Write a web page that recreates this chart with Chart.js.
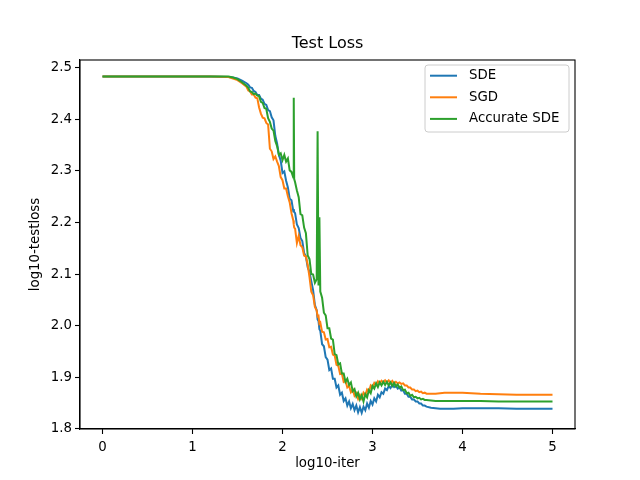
<!DOCTYPE html>
<html>
<head>
<meta charset="utf-8">
<script src="https://cdn.jsdelivr.net/npm/chart.js@4/dist/chart.umd.min.js"></script>
<style>
html,body{margin:0;padding:0;background:#fff;}
#c{display:block;}
</style>
</head>
<body>
<canvas id="c" width="640" height="480" style="width:640px;height:480px"></canvas>
<script>
const logIter = [
  0, 0.5, 1.0, 1.2, 1.4, 1.45, 1.5, 1.55,
  1.60, 1.62, 1.64, 1.66, 1.68, 1.70, 1.72, 1.74, 1.76, 1.78,
  1.80, 1.82, 1.84, 1.86, 1.88, 1.90, 1.92, 1.94, 1.96, 1.98,
  2.00, 2.02, 2.04, 2.06, 2.08, 2.10, 2.12, 2.125, 2.13, 2.14,
  2.16, 2.18, 2.20, 2.22, 2.24, 2.26, 2.28, 2.30, 2.32, 2.34,
  2.36, 2.38, 2.39, 2.40, 2.41, 2.42, 2.44, 2.46, 2.48, 2.50,
  2.52, 2.54, 2.56, 2.58, 2.60, 2.62, 2.64, 2.66, 2.68, 2.70,
  2.72, 2.74, 2.76, 2.78, 2.80, 2.82, 2.84, 2.86, 2.88, 2.90,
  2.92, 2.94, 2.96, 2.98, 3.00, 3.02, 3.04, 3.06, 3.08, 3.10,
  3.12, 3.14, 3.16, 3.18, 3.20, 3.22, 3.24, 3.26, 3.28, 3.30,
  3.32, 3.34, 3.36, 3.38, 3.40, 3.42, 3.44, 3.46, 3.48, 3.50,
  3.52, 3.54, 3.56, 3.58, 3.60,
  3.65, 3.70, 3.75, 3.80, 3.90, 4.00, 4.20, 4.40, 4.60, 4.80, 5.00
];
const sdeLoss = [
  2.483, 2.483, 2.483, 2.483, 2.482, 2.481, 2.479, 2.475,
  2.470, 2.467, 2.462, 2.461, 2.455, 2.453, 2.447, 2.447, 2.440, 2.438,
  2.430, 2.428, 2.418, 2.416, 2.404, 2.398, 2.368, 2.353, 2.331, 2.320,
  2.296, 2.299, 2.281, 2.268, 2.246, 2.243, 2.222, 2.226, 2.220, 2.218,
  2.196, 2.189, 2.170, 2.164, 2.141, 2.134, 2.113, 2.104, 2.086, 2.069,
  2.040, 2.030, 2.012, 2.009, 1.993, 1.990, 1.964, 1.960, 1.939, 1.934,
  1.914, 1.917, 1.897, 1.897, 1.880, 1.884, 1.866, 1.870, 1.854, 1.859,
  1.845, 1.853, 1.840, 1.848, 1.836, 1.845, 1.832, 1.842, 1.831, 1.843,
  1.836, 1.849, 1.841, 1.854, 1.847, 1.859, 1.853, 1.866, 1.861, 1.871,
  1.868, 1.878, 1.875, 1.883, 1.879, 1.885, 1.881, 1.884, 1.878, 1.880,
  1.874, 1.875, 1.868, 1.868, 1.862, 1.862, 1.857, 1.857, 1.853, 1.853,
  1.849, 1.849, 1.845, 1.845, 1.843,
  1.841, 1.840, 1.839, 1.839, 1.839, 1.840, 1.840, 1.840, 1.839, 1.839, 1.839
];
const sgdLoss = [
  2.483, 2.483, 2.483, 2.483, 2.482, 2.479, 2.476, 2.470,
  2.463, 2.456, 2.454, 2.448, 2.448, 2.442, 2.441, 2.423, 2.411, 2.403,
  2.402, 2.393, 2.390, 2.343, 2.338, 2.323, 2.328, 2.318, 2.309, 2.288,
  2.282, 2.266, 2.266, 2.251, 2.239, 2.218, 2.204, 2.196, 2.190, 2.188,
  2.160, 2.174, 2.156, 2.152, 2.136, 2.134, 2.118, 2.094, 2.066, 2.059,
  2.036, 2.029, 2.018, 2.019, 2.004, 2.006, 1.988, 1.987, 1.973, 1.974,
  1.958, 1.959, 1.944, 1.942, 1.924, 1.922, 1.906, 1.907, 1.891, 1.893,
  1.880, 1.883, 1.871, 1.876, 1.864, 1.869, 1.858, 1.866, 1.859, 1.870,
  1.865, 1.876, 1.872, 1.884, 1.880, 1.889, 1.885, 1.892, 1.888, 1.893,
  1.890, 1.894, 1.890, 1.894, 1.889, 1.893, 1.888, 1.891, 1.888, 1.890,
  1.887, 1.888, 1.884, 1.884, 1.880, 1.880, 1.876, 1.876, 1.873, 1.874,
  1.871, 1.872, 1.869, 1.870, 1.868,
  1.868, 1.868, 1.869, 1.870, 1.870, 1.870, 1.868, 1.867, 1.866, 1.866, 1.866
];
const accurateSdeLoss = [
  2.483, 2.483, 2.483, 2.483, 2.483, 2.481, 2.478, 2.472,
  2.465, 2.461, 2.454, 2.453, 2.449, 2.450, 2.446, 2.445, 2.434, 2.432,
  2.422, 2.420, 2.402, 2.395, 2.382, 2.378, 2.358, 2.348, 2.331, 2.334,
  2.321, 2.331, 2.318, 2.324, 2.301, 2.298, 2.287, 2.442, 2.284, 2.278,
  2.262, 2.249, 2.216, 2.214, 2.190, 2.179, 2.136, 2.129, 2.100, 2.099,
  2.083, 2.090, 2.377, 2.078, 2.210, 2.066, 2.054, 2.025, 2.020, 1.995,
  1.995, 1.975, 1.973, 1.945, 1.943, 1.925, 1.927, 1.907, 1.907, 1.891,
  1.897, 1.885, 1.890, 1.873, 1.877, 1.863, 1.870, 1.857, 1.865, 1.853,
  1.867, 1.861, 1.875, 1.869, 1.883, 1.878, 1.888, 1.881, 1.890, 1.884,
  1.891, 1.885, 1.891, 1.884, 1.890, 1.883, 1.889, 1.882, 1.886, 1.880,
  1.882, 1.875, 1.876, 1.869, 1.870, 1.864, 1.866, 1.861, 1.862, 1.859,
  1.860, 1.857, 1.858, 1.856, 1.856,
  1.855, 1.854, 1.854, 1.854, 1.854, 1.854, 1.854, 1.853, 1.853, 1.853, 1.853
];
const seriesNames = ['SDE', 'SGD', 'Accurate SDE'];
const seriesColors = ['#1f77b4', '#ff7f0e', '#2ca02c'];
const xTicks = [0, 1, 2, 3, 4, 5];
const yTicks = [1.8, 1.9, 2.0, 2.1, 2.2, 2.3, 2.4, 2.5];
const chartTitle = 'Test Loss';
const xTitle = 'log10-iter';
const yTitle = 'log10-testloss';

const FONT = "'DejaVu Sans', sans-serif";
const seriesValues = [sdeLoss, sgdLoss, accurateSdeLoss];

const datasets = seriesValues.map((vals, k) => ({
  label: seriesNames[k],
  data: logIter.map((x, i) => ({ x: x, y: vals[i] })),
  borderColor: seriesColors[k],
  backgroundColor: seriesColors[k],
  borderWidth: 2,
  pointRadius: 0,
  showLine: true,
  tension: 0,
  fill: false,
  order: 2 - k
}));

const decorPlugin = {
  id: 'decor',
  afterDatasetsDraw(chart) {
    const ctx = chart.ctx;
    const a = chart.chartArea;
    ctx.save();
    ctx.strokeStyle = '#000';
    ctx.lineWidth = 1.1;
    ctx.strokeRect(a.left, a.top, a.right - a.left, a.bottom - a.top);
    ctx.fillStyle = '#000';
    ctx.font = '16px ' + FONT;
    ctx.textAlign = 'center';
    ctx.textBaseline = 'middle';
    ctx.fillText(chartTitle, (a.left + a.right) / 2, 44);
    ctx.font = '13.33px ' + FONT;
    ctx.fillText(xTitle, (a.left + a.right) / 2, 464);
    ctx.save();
    ctx.translate(36, (a.top + a.bottom) / 2);
    ctx.rotate(-Math.PI / 2);
    ctx.fillText(yTitle, 0, 0);
    ctx.restore();
    const lx = 425, ly = 65, lw = 144, lh = 67;
    ctx.beginPath();
    const r = 3;
    ctx.moveTo(lx + r, ly);
    ctx.lineTo(lx + lw - r, ly);
    ctx.quadraticCurveTo(lx + lw, ly, lx + lw, ly + r);
    ctx.lineTo(lx + lw, ly + lh - r);
    ctx.quadraticCurveTo(lx + lw, ly + lh, lx + lw - r, ly + lh);
    ctx.lineTo(lx + r, ly + lh);
    ctx.quadraticCurveTo(lx, ly + lh, lx, ly + lh - r);
    ctx.lineTo(lx, ly + r);
    ctx.quadraticCurveTo(lx, ly, lx + r, ly);
    ctx.closePath();
    ctx.fillStyle = 'rgba(255,255,255,0.8)';
    ctx.fill();
    ctx.strokeStyle = '#cccccc';
    ctx.lineWidth = 1;
    ctx.stroke();
    ctx.textAlign = 'left';
    ctx.font = '13.33px ' + FONT;
    chart.data.datasets.forEach((ds, i) => {
      const yy = 75.7 + i * 21.6;
      ctx.strokeStyle = ds.borderColor;
      ctx.lineWidth = 2;
      ctx.beginPath();
      ctx.moveTo(430, yy);
      ctx.lineTo(457, yy);
      ctx.stroke();
      ctx.fillStyle = '#000';
      ctx.fillText(ds.label, 469, yy);
    });
    ctx.restore();
  }
};

new Chart(document.getElementById('c'), {
  type: 'scatter',
  data: { datasets: datasets },
  plugins: [decorPlugin],
  options: {
    responsive: false,
    animation: false,
    devicePixelRatio: 1,
    layout: { padding: { left: 0, right: 65, top: 60, bottom: 0 } },
    plugins: {
      legend: { display: false },
      title: { display: false },
      tooltip: { enabled: false }
    },
    scales: {
      x: {
        type: 'linear',
        min: -0.25,
        max: 5.25,
        afterBuildTicks: (s) => { s.ticks = xTicks.map(v => ({ value: v })); },
        afterFit: (s) => { s.height = 51; },
        grid: { drawOnChartArea: false, drawTicks: true, tickLength: 5, color: '#000', tickWidth: 1.1 },
        border: { display: true, color: '#000', width: 1.1 },
        ticks: {
          color: '#000',
          font: { family: FONT, size: 13.33 },
          padding: 6,
          maxRotation: 0,
          callback: (v) => String(v)
        }
      },
      y: {
        type: 'linear',
        min: 1.7996,
        max: 2.515,
        afterBuildTicks: (s) => { s.ticks = yTicks.map(v => ({ value: v })); },
        afterFit: (s) => { s.width = 80; },
        grid: { drawOnChartArea: false, drawTicks: true, tickLength: 5, color: '#000', tickWidth: 1.1 },
        border: { display: true, color: '#000', width: 1.1 },
        ticks: {
          color: '#000',
          font: { family: FONT, size: 13.33 },
          padding: 3,
          callback: (v) => Number(v).toFixed(1)
        }
      }
    }
  }
});
</script>
</body>
</html>
